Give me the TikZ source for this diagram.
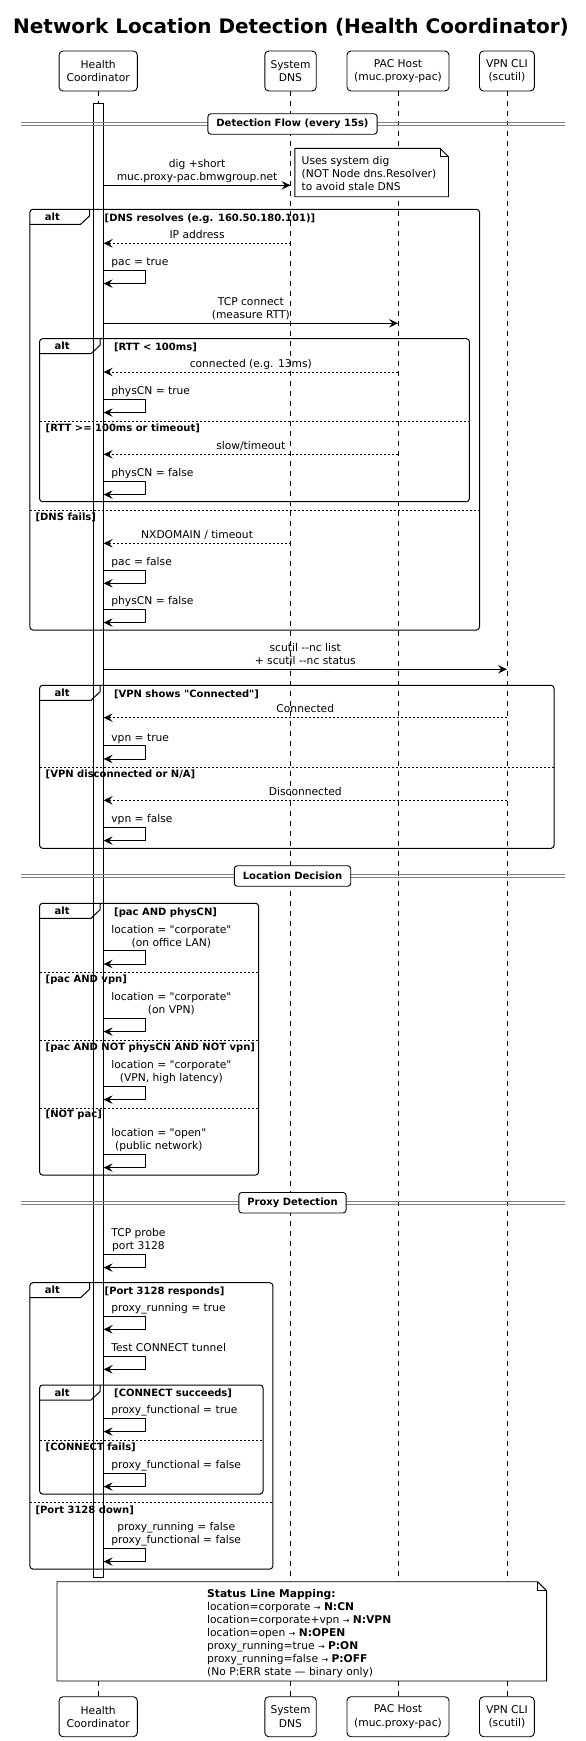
\documentclass[tikz,border=0pt]{standalone}
\usepackage{fontspec}
\setmainfont{DejaVu Sans}
\usetikzlibrary{arrows.meta}
\font\dqrfont="DejaVu Sans" at 10.7pt
\font\dqbfont="DejaVu Sans Bold" at 10pt
\newcommand\myfs{\fontsize{10.7}{13}\selectfont}
\newcommand\myfb{\fontsize{10}{13}\selectfont\bfseries}
\newcommand\sarr{{\fontsize{8}{13}\selectfont →}}
\newcommand\dq{{\dqrfont\symbol{34}}}
\newcommand\dqB{{\dqbfont\symbol{34}}}
\newcommand\callmsg[5]{%
  \draw[msgline] (#2 |- 0,#4) -- node[lbl, yshift=0.5pt] (#1) {#5} (#3 |- 0,#4);}
\newcommand\retmsg[5]{%
  \draw[retline] (#2 |- 0,#4) -- node[lbl, yshift=0.5pt] (#1) {#5} (#3 |- 0,#4);}
\newcommand\selfmsg[3]{%
  \draw[msgline] (act.east |- 0,#2) -- (145.5,#2) -- (145.5,#2+13.3) -- (act.east |- 0,#2+13.3);
  \node[slbl] (#1) at (111.2,#2-0.5) {#3};}
\newcommand\altframe[6]{%
  \draw[frm] (#2,#3) rectangle (#4,#5);
  \draw[tabline] (#2,#3+15) -- (#6-9,#3+15) -- (#6,#3+6.5) -- (#6,#3);
  \node[altlbl] (#1) at (#2+22.5,#3+7.5) {alt};}
\newcommand\sepdiv[3]{%
  \draw[dbl] (20.5,#2-1.4) -- (565.3,#2-1.4);
  \draw[dbl] (20.5,#2+1.4) -- (565.3,#2+1.4);
  \node[divbox] (#1) at (292.5,#2) {#3};}
\begin{document}
\begin{tikzpicture}[x=1pt,y=-1pt,
  every node/.style={font=\myfs},
  part/.style={draw, rounded corners=4pt, line width=0.9pt, align=center, minimum height=40pt, inner sep=0pt, font=\fontsize{10.7}{13.3}\selectfont},
  life/.style={dash pattern=on 5pt off 5pt, line width=0.8pt},
  msgline/.style={line width=1pt, -{Stealth[length=9pt,width=8.5pt,inset=3.5pt]}},
  retline/.style={msgline, dash pattern=on 2pt off 2pt},
  frm/.style={rounded corners=3pt, line width=1pt},
  tabline/.style={line width=1pt},
  sepline/.style={dash pattern=on 2pt off 2pt, line width=0.8pt},
  guard/.style={font=\myfb, anchor=west, inner sep=0pt},
  altlbl/.style={font=\myfb, inner sep=0pt},
  lbl/.style={align=center, inner sep=0pt, anchor=south, execute at end node=\strut},
  slbl/.style={align=center, inner sep=0pt, anchor=south west, execute at end node=\strut},
  dbl/.style={draw=gray, line width=1pt},
  divbox/.style={draw, fill=white, rounded corners=3pt, line width=0.9pt, font=\myfb, minimum height=20.5pt, inner xsep=8.5pt, inner ysep=0pt},
  notebox/.style={draw, fill=white, line width=0.9pt},
]
\useasboundingbox (0,0) rectangle (586,1741);

% title
\node[font=\fontsize{20}{24}\selectfont\bfseries] (title) at (291,27) {Network Location Detection (Health Coordinator)};

% participants
\node[part, minimum width=78.3pt] (hcT) at (98.2,71) {Health\\Coordinator};
\node[part, minimum width=51.4pt] (dnsT) at (290.5,71) {System\\DNS};
\node[part, minimum width=102pt] (pacT) at (398,71) {PAC Host\\(muc.proxy-pac)};
\node[part, minimum width=54.8pt] (vpnT) at (506.9,71) {VPN CLI\\(scutil)};
\node[part, minimum width=78.3pt] (hcB) at (98.2,1716.7) {Health\\Coordinator};
\node[part, minimum width=51.4pt] (dnsB) at (290.5,1716.7) {System\\DNS};
\node[part, minimum width=102pt] (pacB) at (398,1716.7) {PAC Host\\(muc.proxy-pac)};
\node[part, minimum width=54.8pt] (vpnB) at (506.9,1716.7) {VPN CLI\\(scutil)};

\foreach \p in {hc,dns,pac,vpn}{\draw[life] (\p T.south) -- (\p B.north);}

% activation bar
\node[draw, fill=white, line width=0.9pt, minimum width=10pt, minimum height=1473.4pt, inner sep=0pt, anchor=north] (act) at (98.2,103.3) {};

% ---- Detection flow
\sepdiv{d1}{124}{Detection Flow (every 15s)}

\callmsg{m1}{act.east}{dnsT}{185.3}{dig +short\\muc.proxy-pac.bmwgroup.net}
\draw[notebox] (294.8,148.3) -- (440,148.3) -- (448.5,156.8) -- (448.5,196.7) -- (294.8,196.7) -- cycle;
\draw[line width=0.9pt] (440,148.3) -- (440,156.8) -- (448.5,156.8);
\node[anchor=north west, align=left, inner sep=0pt, font=\fontsize{10.7}{13.2}\selectfont] (note1) at (301.5,155.8) {Uses system dig\\(NOT Node dns.Resolver)\\to avoid stale DNS};

\altframe{a1}{29.9}{209.3}{479.5}{630}{89.6}
\node[guard] (g1) at (104.5,218.3) {[DNS resolves (e.g. 160.50.180.101)]};
\retmsg{m2}{dnsT}{act.east}{243.3}{IP address}
\selfmsg{s1}{270.3}{pac = true}
\callmsg{m3}{act.east}{pacT}{323.3}{TCP connect\\(measure RTT)}

\altframe{a2}{39.6}{338.7}{469.4}{501.7}{100}
\node[guard] (g3) at (113.8,347.3) {[RTT < 100ms]};
\retmsg{m4}{pacT}{act.east}{372}{connected (e.g. 13ms)}
\selfmsg{s2}{399.3}{physCN = true}
\draw[sepline] (39.6,421) -- (469.4,421);
\node[guard] (g4) at (45.5,428) {[RTT >= 100ms or timeout]};
\retmsg{m5}{pacT}{act.east}{454.3}{slow/timeout}
\selfmsg{s3}{481.3}{physCN = false}

\draw[sepline] (29.9,510) -- (479.5,510);
\node[guard] (g2) at (35.4,517.3) {[DNS fails]};
\retmsg{m6}{dnsT}{act.east}{543.3}{NXDOMAIN / timeout}
\selfmsg{s4}{570}{pac = false}
\selfmsg{s5}{609.3}{physCN = false}

\callmsg{m7}{act.east}{vpnT}{669.3}{scutil -{}-nc list\\+ scutil -{}-nc status}
\altframe{a3}{39.6}{685.3}{554}{848.3}{100}
\node[guard] (g5) at (113.8,694) {[VPN shows \dqB Connected\dqB]};
\retmsg{m8}{vpnT}{act.east}{717.7}{Connected}
\selfmsg{s6}{745.7}{vpn = true}
\draw[sepline] (39.6,767.3) -- (554,767.3);
\node[guard] (g6) at (45.5,774.3) {[VPN disconnected or N/A]};
\retmsg{m9}{vpnT}{act.east}{800.3}{Disconnected}
\selfmsg{s7}{827.3}{vpn = false}

% ---- Location decision
\sepdiv{d2}{876}{Location Decision}
\altframe{a4}{39.6}{903.3}{258.6}{1175}{100}
\node[guard] (g7) at (114,912.3) {[pac AND physCN]};
\selfmsg{s8}{950.7}{location = \dq corporate\dq\\(on office LAN)}
\draw[sepline] (39.6,972.3) -- (258.6,972.3);
\node[guard] (g8) at (45.5,979.3) {[pac AND vpn]};
\selfmsg{s9}{1018.3}{location = \dq corporate\dq\\(on VPN)}
\draw[sepline] (39.6,1040.7) -- (258.6,1040.7);
\node[guard] (g9) at (45.5,1047.7) {[pac AND NOT physCN AND NOT vpn]};
\selfmsg{s10}{1086.3}{location = \dq corporate\dq\\(VPN, high latency)}
\draw[sepline] (39.6,1108.3) -- (258.6,1108.3);
\node[guard] (g10) at (45.5,1115) {[NOT pac]};
\selfmsg{s11}{1154.3}{location = \dq open\dq\\(public network)}

% ---- Proxy detection
\sepdiv{d3}{1202.7}{Proxy Detection}
\selfmsg{s12}{1254.3}{TCP probe\\port 3128}
\altframe{a5}{29.9}{1282.7}{272.8}{1569}{89.6}
\node[guard] (g11) at (104.5,1291.7) {[Port 3128 responds]};
\selfmsg{s13}{1316}{proxy\_running = true}
\selfmsg{s14}{1356}{Test CONNECT tunnel}
\altframe{a6}{39.6}{1385}{263}{1494}{100}
\node[guard] (g13) at (114,1393.3) {[CONNECT succeeds]};
\selfmsg{s15}{1418.3}{proxy\_functional = true}
\draw[sepline] (39.6,1440) -- (263,1440);
\node[guard] (g14) at (45.5,1447.7) {[CONNECT fails]};
\selfmsg{s16}{1473.3}{proxy\_functional = false}
\draw[sepline] (29.9,1502.3) -- (272.8,1502.3);
\node[guard] (g12) at (35.4,1510) {[Port 3128 down]};
\selfmsg{s17}{1548.3}{proxy\_running = false\\proxy\_functional = false}

% ---- status note
\draw[notebox] (57,1581.7) -- (537.6,1581.7) -- (546.6,1590.7) -- (546.6,1681) -- (57,1681) -- cycle;
\draw[line width=0.9pt] (537.6,1581.7) -- (537.6,1590.7) -- (546.6,1590.7);
\node[anchor=north west, align=left, inner sep=0pt] (note2) at (207,1589) {\textbf{Status Line Mapping:}\\
location=corporate \sarr{} \textbf{N:CN}\\
location=corporate+vpn \sarr{} \textbf{N:VPN}\\
location=open \sarr{} \textbf{N:OPEN}\\
proxy\_running=true \sarr{} \textbf{P:ON}\\
proxy\_running=false \sarr{} \textbf{P:OFF}\\
(No P:ERR state — binary only)};
\end{tikzpicture}
\end{document}
